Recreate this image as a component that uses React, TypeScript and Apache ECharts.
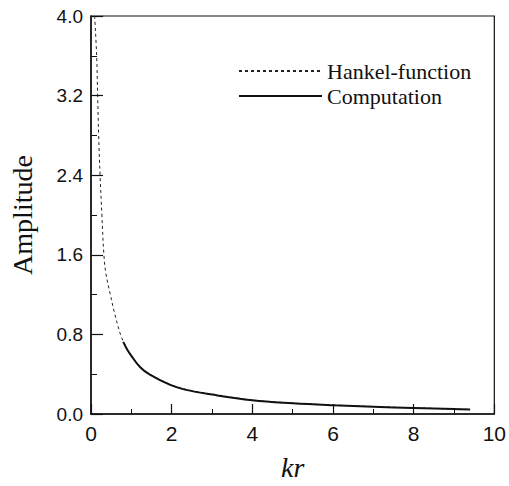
import React, { useEffect, useRef } from "react";
import * as echarts from "echarts";

const hankelKr = [0.09, 0.14, 0.165, 0.19, 0.225, 0.27, 0.32, 0.37, 0.48, 0.58, 0.73, 0.8, 0.9, 1.0, 1.22, 1.46, 1.95, 2.33, 3, 4, 5, 6, 7, 8, 9, 9.4];
const hankelAmp = [4.0, 3.6, 3.2, 2.8, 2.4, 2.0, 1.6, 1.41, 1.2, 1.02, 0.8, 0.73, 0.65, 0.59, 0.475, 0.4, 0.3, 0.25, 0.2, 0.14, 0.11, 0.09, 0.075, 0.062, 0.05, 0.046];

const compKr = [0.8, 0.9, 1.0, 1.22, 1.46, 1.95, 2.33, 3, 4, 5, 6, 7, 8, 9, 9.4];
const compAmp = [0.725, 0.645, 0.585, 0.47, 0.395, 0.295, 0.245, 0.195, 0.138, 0.108, 0.088, 0.073, 0.06, 0.049, 0.045];

const xTicks = [0, 2, 4, 6, 8, 10];
const yTicks = [0.0, 0.8, 1.6, 2.4, 3.2, 4.0];

const seriesNames = ["Hankel-function", "Computation"];

export default function App() {
  const ref = useRef<HTMLDivElement>(null);
  useEffect(() => {
    if (!ref.current) return;
    const chart = echarts.init(ref.current, undefined, { renderer: "svg" });
    const ink = "#111";
    const serif = "'Liberation Serif', 'Times New Roman', serif";
    const sans = "'Liberation Sans', Arial, sans-serif";
    chart.setOption({
      animation: false,
      backgroundColor: "#fff",
      grid: {
        left: 84,
        right: 13,
        top: 16,
        bottom: 59,
        show: true,
        borderColor: ink,
        borderWidth: 1.2,
        containLabel: false,
      },
      legend: {
        orient: "vertical",
        left: 233,
        top: 55,
        itemWidth: 83,
        itemHeight: 10,
        itemGap: 3,
        data: seriesNames,
        itemStyle: { opacity: 0 },
        textStyle: { fontFamily: serif, fontSize: 22, color: ink },
      },
      xAxis: {
        type: "value",
        min: xTicks[0],
        max: xTicks[xTicks.length - 1],
        interval: 2,
        name: "kr",
        nameLocation: "middle",
        nameGap: 39,
        nameTextStyle: { fontFamily: serif, fontStyle: "italic", fontSize: 28, color: ink },
        axisLine: { lineStyle: { color: ink, width: 1.5 } },
        axisTick: { inside: true, length: 10, lineStyle: { color: ink, width: 1.2 } },
        minorTick: { show: true, splitNumber: 2, length: 5, lineStyle: { color: ink, width: 1 } },
        splitLine: { show: false },
        axisLabel: { fontFamily: sans, fontSize: 21, color: ink, margin: 9 },
      },
      yAxis: {
        type: "value",
        min: yTicks[0],
        max: yTicks[yTicks.length - 1],
        interval: 0.8,
        name: "Amplitude",
        nameLocation: "middle",
        nameGap: 55,
        nameTextStyle: { fontFamily: serif, fontSize: 28, color: ink },
        axisLine: { lineStyle: { color: ink, width: 1.5 } },
        axisTick: { inside: true, length: 12, lineStyle: { color: ink, width: 1.2 } },
        minorTick: { show: true, splitNumber: 2, length: 6, lineStyle: { color: ink, width: 1 } },
        splitLine: { show: false },
        axisLabel: {
          fontFamily: sans,
          fontSize: 19,
          color: ink,
          margin: 8,
          formatter: (v: number) => v.toFixed(1),
        },
      },
      series: [
        {
          name: seriesNames[0],
          type: "line",
          data: hankelKr.map((x, i) => [x, hankelAmp[i]]),
          symbol: "none",
          smooth: 0.4,
          clip: true,
          lineStyle: { color: "#222", width: 1, type: [3, 3] },
          itemStyle: { color: "#222" },
        },
        {
          name: seriesNames[1],
          type: "line",
          data: compKr.map((x, i) => [x, compAmp[i]]),
          symbol: "none",
          smooth: 0.4,
          clip: true,
          lineStyle: { color: ink, width: 2 },
          itemStyle: { color: ink },
        },
      ],
    });
    return () => chart.dispose();
  }, []);
  return (
    <div
      ref={ref}
      style={{ position: "fixed", left: 0, top: 0, width: 509, height: 486, background: "#fff" }}
    />
  );
}
